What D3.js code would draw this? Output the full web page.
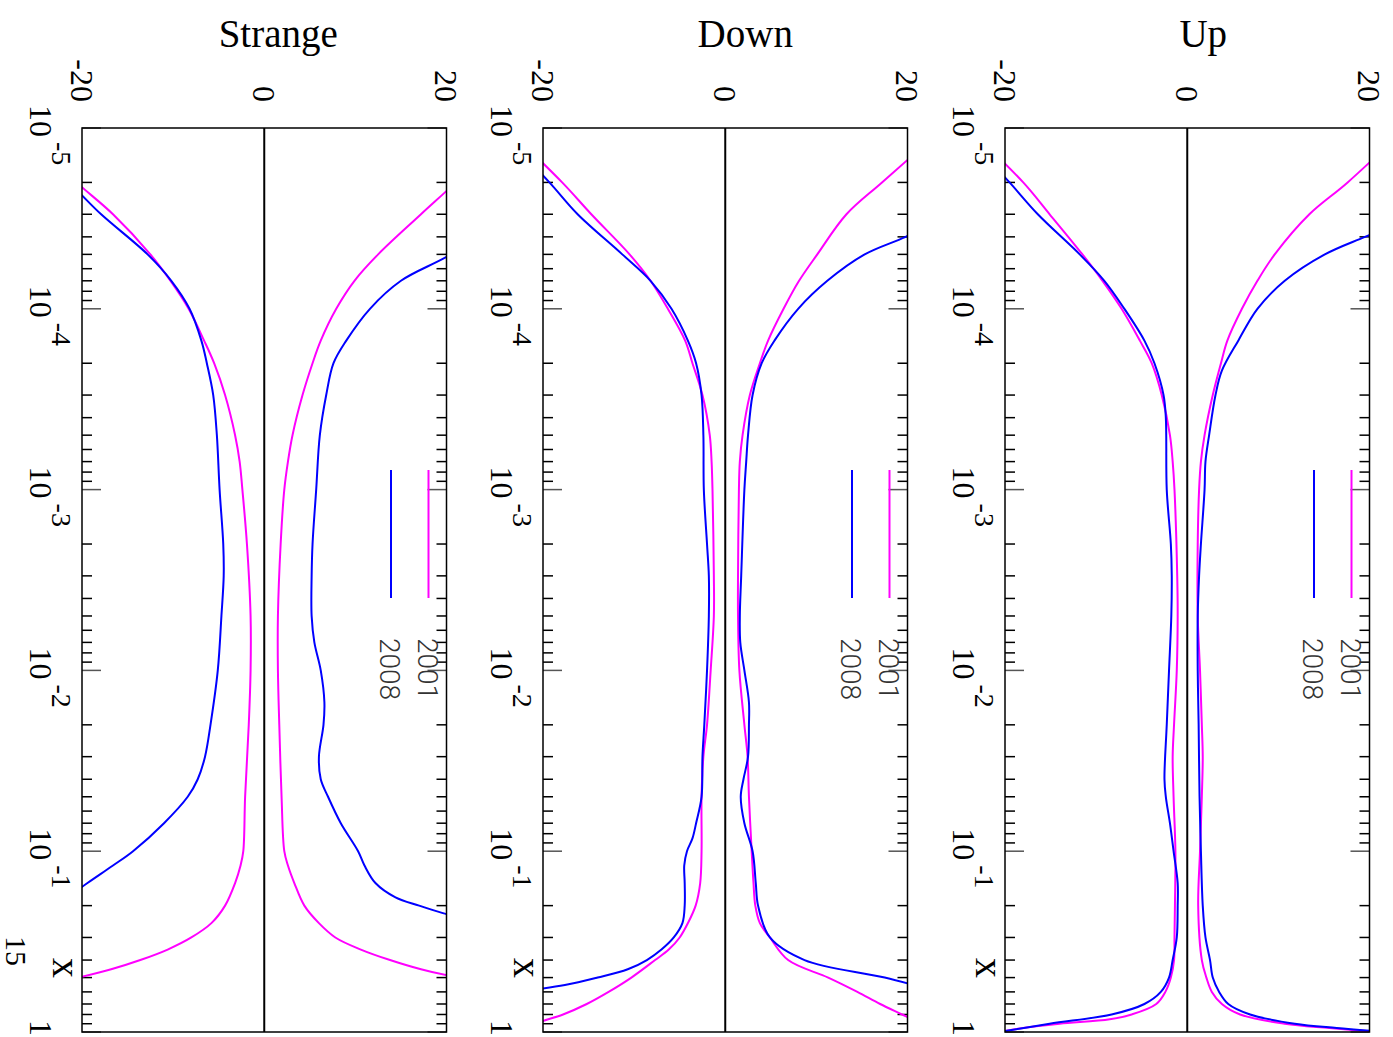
<!DOCTYPE html>
<html><head><meta charset="utf-8">
<script src="https://cdn.jsdelivr.net/npm/d3@7"></script>
<style>body{margin:0;background:#fff}svg{display:block}</style>
</head><body>
<svg id="chart" width="1393" height="1037"></svg>
<script>
const panelNames = ["Strange", "Down", "Up"];
const years = ["2001", "2008"];
const seriesColors = ["#ff00ff", "#0000ff"];
const valueTicks = [-20, 0, 20];
const decadeTicks = [1e-5, 1e-4, 1e-3, 1e-2, 1e-1, 1];
const decadeBase = ["10", "10", "10", "10", "10", "1"];
const decadeExp = ["-5", "-4", "-3", "-2", "-1", ""];
const axisName = "x";
const pageNumber = "15";

// Up
const upPos2001 = [[1e-5,24],[2e-5,17.6],[3e-5,13.4],[5e-5,9.6],[7e-5,7.7],[1e-4,6.0],[1.5e-4,4.4],[2e-4,3.7],[3e-4,2.8],[5e-4,1.9],[7e-4,1.5],[1e-3,1.3],[2e-3,1.15],[5e-3,1.15],[1e-2,1.4],[2e-2,1.6],[3e-2,1.7],[5e-2,1.6],[0.1,1.4],[0.2,1.2],[0.4,1.6],[0.5,2.1],[0.6,2.7],[0.7,3.8],[0.8,5.8],[0.9,10.7],[0.95,15.6],[1,21]];
const upNeg2001 = [[1e-5,-24],[2e-5,-18],[3e-5,-15.1],[5e-5,-11.5],[7e-5,-9.3],[1e-4,-7.2],[1.5e-4,-5.2],[2e-4,-3.9],[3e-4,-2.8],[5e-4,-1.9],[7e-4,-1.6],[1e-3,-1.4],[3e-3,-1.1],[5e-3,-1.05],[1e-2,-1.15],[2e-2,-1.45],[3e-2,-1.6],[5e-2,-1.5],[0.1,-1.3],[0.2,-1.35],[0.3,-1.4],[0.4,-1.45],[0.5,-1.8],[0.6,-2.4],[0.7,-3.4],[0.8,-6.1],[0.85,-8.5],[0.9,-14],[0.95,-18],[1,-20.6]];
const upPos2008 = [[1e-5,38],[2e-5,30],[3e-5,25.5],[4e-5,19.5],[5e-5,15.1],[7e-5,10.7],[1e-4,7.7],[1.5e-4,5.6],[2.2e-4,3.8],[3e-4,3.1],[5e-4,2.4],[7e-4,2.0],[1e-3,1.9],[2e-3,1.5],[3e-3,1.3],[5e-3,1.15],[1e-2,1.15],[2e-2,1.25],[5e-2,1.35],[0.1,1.5],[0.2,1.7],[0.3,2.0],[0.4,2.5],[0.5,2.8],[0.6,3.5],[0.7,4.5],[0.8,6.9],[0.9,11.8],[0.95,16.4],[1,22]];
const upNeg2008 = [[1e-5,-25],[2e-5,-19.5],[3e-5,-16.4],[5e-5,-11.8],[7e-5,-9.1],[1e-4,-6.9],[1.5e-4,-4.7],[2e-4,-3.6],[3e-4,-2.6],[4e-4,-2.35],[1e-3,-2.25],[2e-3,-1.8],[3e-3,-1.7],[5e-3,-1.75],[1e-2,-2.0],[2e-2,-2.25],[4e-2,-2.5],[5e-2,-2.35],[7e-2,-1.9],[0.1,-1.5],[0.15,-1.05],[0.2,-1.05],[0.3,-1.15],[0.4,-1.6],[0.5,-2.0],[0.6,-2.9],[0.7,-4.7],[0.8,-8.3],[0.9,-15.1],[1,-20.6]];

// Down
const downPos2001 = [[1e-5,24],[2e-5,17.2],[3e-5,13.3],[5e-5,10.1],[7e-5,8.1],[1e-4,6.4],[1.5e-4,4.7],[2e-4,3.8],[3e-4,2.7],[5e-4,1.9],[7e-4,1.6],[1e-3,1.5],[3e-3,1.4],[5e-3,1.4],[1e-2,1.55],[2e-2,2.1],[3e-2,2.45],[5e-2,2.6],[0.1,2.9],[0.15,3.1],[0.2,3.3],[0.25,3.8],[0.3,4.9],[0.4,6.9],[0.5,11.3],[0.6,14.5],[0.7,17],[0.8,19.4],[0.9,21.5],[1,23]];
const downNeg2001 = [[1e-5,-24],[2e-5,-17.9],[3e-5,-14.7],[5e-5,-10.5],[7e-5,-8.2],[1e-4,-6.3],[1.5e-4,-4.4],[2e-4,-3.6],[3e-4,-2.5],[5e-4,-1.7],[7e-4,-1.5],[1e-3,-1.4],[3e-3,-1.25],[5e-3,-1.25],[1e-2,-1.6],[2e-2,-2.0],[3e-2,-2.4],[5e-2,-2.6],[0.1,-2.6],[0.15,-2.75],[0.2,-3.25],[0.25,-4.1],[0.3,-5.0],[0.35,-6.2],[0.4,-7.7],[0.5,-10.3],[0.6,-12.8],[0.7,-15.2],[0.8,-17.8],[0.9,-20.9],[1,-23]];
const downPos2008 = [[1e-5,38],[2e-5,31],[3e-5,25],[4e-5,19.8],[5e-5,15.3],[7e-5,11.2],[1e-4,8.0],[1.5e-4,5.4],[2e-4,4.0],[3e-4,3.0],[5e-4,2.5],[7e-4,2.3],[1e-3,2.1],[3e-3,1.75],[5e-3,1.6],[7e-3,1.65],[1e-2,2.1],[1.5e-2,2.6],[2e-2,2.6],[3e-2,2.5],[4e-2,2.0],[5e-2,1.7],[7e-2,2.1],[0.1,3.0],[0.15,3.35],[0.2,3.6],[0.3,4.9],[0.4,8.7],[0.5,17.5],[0.6,23.5]];
const downNeg2008 = [[1e-5,-25],[2e-5,-19.3],[3e-5,-16.2],[5e-5,-11.3],[7e-5,-8.2],[1e-4,-5.9],[1.5e-4,-4.1],[2e-4,-3.2],[3e-4,-2.6],[5e-4,-2.4],[1e-3,-2.35],[2e-3,-2.0],[3e-3,-1.8],[5e-3,-1.8],[1e-2,-2.0],[2e-2,-2.3],[3e-2,-2.5],[5e-2,-2.6],[7e-2,-3.2],[0.085,-3.6],[0.1,-4.2],[0.12,-4.5],[0.15,-4.45],[0.2,-4.45],[0.25,-4.7],[0.3,-5.65],[0.35,-7.0],[0.4,-8.6],[0.45,-10.7],[0.5,-14.0],[0.55,-17.6],[0.6,-23]];

// Strange
const strPos2001 = [[1e-5,27],[2e-5,21],[3e-5,17.2],[5e-5,12.5],[7e-5,9.9],[1e-4,7.9],[1.5e-4,6.2],[2e-4,5.3],[3e-4,4.2],[5e-4,3.1],[7e-4,2.6],[1e-3,2.2],[2e-3,1.8],[5e-3,1.5],[1e-2,1.5],[2e-2,1.65],[5e-2,1.9],[0.1,2.2],[0.12,2.6],[0.15,3.3],[0.2,4.4],[0.25,6.0],[0.3,7.8],[0.35,10.6],[0.4,13.8],[0.45,17.2],[0.5,21.3]];
const strNeg2001 = [[1e-5,-27],[2e-5,-20.6],[3e-5,-16.6],[5e-5,-12.5],[7e-5,-10.3],[1e-4,-8.3],[1.5e-4,-6.6],[2e-4,-5.5],[3e-4,-4.3],[5e-4,-3.2],[7e-4,-2.7],[1e-3,-2.4],[2e-3,-1.9],[5e-3,-1.5],[1e-2,-1.5],[2e-2,-1.7],[5e-2,-2.1],[0.1,-2.3],[0.12,-2.6],[0.15,-3.2],[0.2,-4.3],[0.25,-5.8],[0.3,-8.0],[0.35,-10.6],[0.4,-13.6],[0.45,-16.8],[0.5,-20.4]];
const strPos2008 = [[1e-5,45],[2e-5,34],[3e-5,27],[5e-5,20.5],[7e-5,15.0],[1e-4,11.6],[1.5e-4,9.0],[2e-4,7.6],[3e-4,6.8],[5e-4,6.1],[1e-3,5.7],[2e-3,5.3],[3e-3,5.2],[5e-3,5.2],[7e-3,5.5],[1e-2,6.2],[1.5e-2,6.6],[2e-2,6.5],[3e-2,6.0],[4e-2,6.2],[5e-2,7.0],[7e-2,8.4],[0.1,10.3],[0.12,11.0],[0.15,12.2],[0.18,14.4],[0.2,17],[0.22,19.6],[0.25,23.8]];
const strNeg2008 = [[1e-5,-29],[2e-5,-21.5],[3e-5,-17.9],[5e-5,-12.8],[7e-5,-10.2],[1e-4,-8.2],[1.5e-4,-6.9],[2e-4,-6.3],[3e-4,-5.6],[5e-4,-5.2],[1e-3,-4.9],[2e-3,-4.5],[3e-3,-4.45],[5e-3,-4.7],[1e-2,-5.1],[2e-2,-5.9],[3e-2,-6.5],[4e-2,-7.3],[5e-2,-8.4],[7e-2,-11],[0.1,-14.4],[0.12,-16.6],[0.15,-19.4],[0.2,-22.9]];

const panelSeries = [
  [[strPos2001, strNeg2001], [strPos2008, strNeg2008]],
  [[downPos2001, downNeg2001], [downPos2008, downNeg2008]],
  [[upPos2001, upNeg2001], [upPos2008, upNeg2008]]
];

// ---------- layout ----------
const panelLeft = [82, 543, 1005];
const titleShift = [14, 20, 16];
const panelW = 364.5;
const plotTop = 128, plotBottom = 1032;
const serif = "'Liberation Serif','Times New Roman',serif";

const svg = d3.select("#chart");
const yScale = d3.scaleLog().domain([1e-5, 1]).range([plotTop, plotBottom]);
const allTicks = yScale.ticks();
const isMajor = v => Math.abs(Math.log10(v) - Math.round(Math.log10(v))) < 1e-9;

function rotText(g, x, y, txt, size, anchor, opts = {}) {
  return g.append("text")
    .attr("transform", `translate(${x},${y}) rotate(90)`)
    .attr("text-anchor", anchor)
    .attr("font-family", opts.family || serif)
    .attr("font-size", size)
    .attr("font-weight", opts.weight || "normal")
    .attr("fill", opts.fill || "#000")
    .text(txt);
}

// page number
rotText(svg, 6, 951, pageNumber, 30, "middle");

panelNames.forEach((name, pi) => {
  const left = panelLeft[pi];
  const xScale = d3.scaleLinear().domain([-20, 20]).range([left, left + panelW]);
  const g = svg.append("g");

  g.append("text")
    .attr("x", (left + panelW / 2) + titleShift[pi]).attr("y", 47)
    .attr("text-anchor", "middle")
    .attr("font-family", serif).attr("font-size", 39)
    .text(name);

  valueTicks.forEach(v => {
    rotText(g, xScale(v) - 11.5, 102, String(v), 32, "end");
  });

  decadeTicks.forEach((d, i) => {
    const yy = yScale(d);
    if (decadeExp[i] === "") {
      rotText(g, left - 52, yy + 4, decadeBase[i], 32, "end");
    } else {
      rotText(g, left - 52, yy + 9, decadeBase[i], 32, "end");
      rotText(g, left - 30, yy + 14, decadeExp[i], 28, "start");
    }
  });
  rotText(g, left - 29, 968, axisName, 40, "middle");

  const clipId = "clip" + pi;
  svg.append("clipPath").attr("id", clipId)
    .append("rect").attr("x", left).attr("y", plotTop)
    .attr("width", panelW).attr("height", plotBottom - plotTop);

  allTicks.forEach(t => {
    const yy = yScale(t);
    const major = isMajor(t);
    const len = major ? 19 : 10;
    const col = major ? "#555" : "#000";
    g.append("line").attr("x1", left).attr("x2", left + len)
      .attr("y1", yy).attr("y2", yy).attr("stroke", col).attr("stroke-width", 1.5);
    g.append("line").attr("x1", left + panelW).attr("x2", left + panelW - len)
      .attr("y1", yy).attr("y2", yy).attr("stroke", col).attr("stroke-width", 1.5);
  });

  g.append("line").attr("x1", xScale(0)).attr("x2", xScale(0))
    .attr("y1", plotTop).attr("y2", plotBottom).attr("stroke", "#000").attr("stroke-width", 2);

  const line = d3.line()
    .x(d => xScale(d[1])).y(d => yScale(d[0]))
    .curve(d3.curveCatmullRom.alpha(0.5));
  const cg = g.append("g").attr("clip-path", `url(#${clipId})`);
  panelSeries[pi].forEach((pair, si) => {
    pair.forEach(arr => {
      cg.append("path").attr("d", line(arr))
        .attr("fill", "none").attr("stroke", seriesColors[si])
        .attr("stroke-width", 2).attr("stroke-linejoin", "round");
    });
  });

  const legX = [left + 346.5, left + 309];
  years.forEach((yr, si) => {
    g.append("line").attr("x1", legX[si]).attr("x2", legX[si])
      .attr("y1", 470).attr("y2", 598)
      .attr("stroke", seriesColors[si]).attr("stroke-width", 2);
    rotText(g, legX[si] - 11, 638, yr, 28, "start",
      { family: "Roboto, 'Liberation Sans', sans-serif", weight: 300, fill: "#333" });
  });

  g.append("rect").attr("x", left).attr("y", plotTop)
    .attr("width", panelW).attr("height", plotBottom - plotTop)
    .attr("fill", "none").attr("stroke", "#000").attr("stroke-width", 1.5);
});
</script>
</body></html>
